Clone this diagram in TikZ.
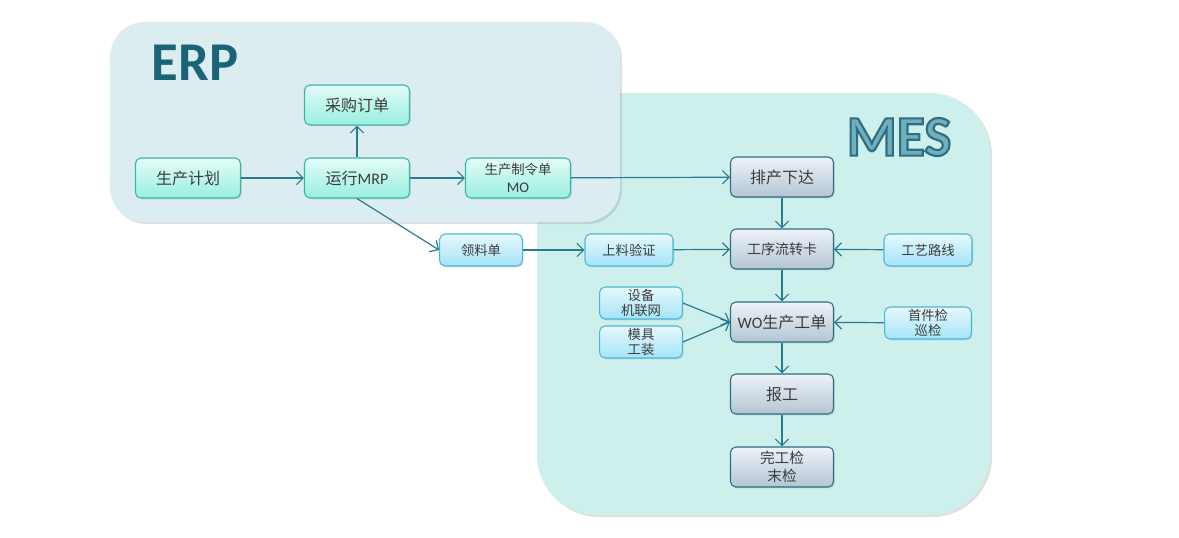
\documentclass[tikz,border=0pt]{standalone}
\usepackage{fontspec}
\setmainfont{Carlito}
\newfontfamily\cjk{Noto Sans CJK SC}
\usetikzlibrary{arrows.meta,shadows}
\definecolor{erpbg}{HTML}{DCEDF2}
\definecolor{mesbg}{HTML}{CEF0EC}
\definecolor{erptxt}{HTML}{1B6478}
\definecolor{mesfill}{HTML}{6FAFBE}
\definecolor{arrcol}{HTML}{2A7A90}
\definecolor{txtgray}{HTML}{3C3C3C}
\definecolor{erpA}{HTML}{E4FCF7}
\definecolor{erpB}{HTML}{98EFDF}
\definecolor{erpD}{HTML}{3AB5A8}
\definecolor{mainA}{HTML}{EDF2F7}
\definecolor{mainB}{HTML}{B3C6D5}
\definecolor{mainD}{HTML}{2D6D83}
\definecolor{subA}{HTML}{E8F8FD}
\definecolor{subB}{HTML}{A3E4F8}
\definecolor{subD}{HTML}{4DB6D8}
\newcommand{\outlinetext}[1]{{\color{mesfill}\special{pdf:literal direct 1.6 w 0.184 0.431 0.502 RG 2 Tr}#1\special{pdf:literal direct 0 Tr}}}
\tikzset{
  panel/.style={drop shadow={opacity=0.25,shadow xshift=1.5pt,shadow yshift=-1.5pt}},
  basebox/.style={rounded corners=4pt, line width=0.8pt, text=txtgray,
    drop shadow={opacity=0.22,shadow xshift=1pt,shadow yshift=-1pt}, align=center, inner sep=1pt},
  erpbox/.style={basebox, top color=erpA, bottom color=erpB, draw=erpD,
    minimum width=78.75pt, minimum height=30pt, font=\cjk\fontsize{12}{14}\selectfont},
  mainbox/.style={basebox, top color=mainA, bottom color=mainB, draw=mainD,
    minimum width=77.25pt, minimum height=30pt, font=\cjk\fontsize{12}{14}\selectfont},
  subbox/.style={basebox, top color=subA, bottom color=subB, draw=subD,
    minimum width=62pt, minimum height=24pt, font=\cjk\fontsize{10}{11.5}\selectfont},
  arr/.style={draw=arrcol, line width=0.9pt, -{Straight Barb[length=5pt,width=10pt]}}
}
\begin{document}
\begin{tikzpicture}[x=0.75pt,y=-0.75pt]
\useasboundingbox (0,0) rectangle (1179,537);
% panels
\fill[mesbg, rounded corners=45pt, panel] (537,93) rectangle (990,515);
\fill[erpbg, rounded corners=26pt, panel] (110,22) rectangle (620,222);
\node[font=\bfseries\fontsize{41}{41}\selectfont, text=erptxt] (erp) at (195,63) {ERP};
\node[font=\bfseries\fontsize{43}{43}\selectfont] (mes) at (899,137) {\outlinetext{MES}};
% ERP nodes
\node[erpbox] (plan) at (188,178) {生产计划};
\node[erpbox] (mrp) at (357,178) {运行{\rmfamily MRP}};
\node[erpbox] (po) at (357,105) {采购订单};
\node[erpbox, font=\cjk\fontsize{10}{13}\selectfont] (mo) at (518,178) {生产制令单\\{\rmfamily\fontsize{11}{13}\selectfont MO}};
% MES main nodes
\node[mainbox] (pc) at (782,177) {排产下达};
\node[mainbox, font=\cjk\fontsize{10.5}{13}\selectfont] (card) at (782,249) {工序流转卡};
\node[mainbox] (wo) at (782,322) {{\rmfamily WO}生产工单};
\node[mainbox] (bg) at (782,394) {报工};
\node[mainbox, font=\cjk\fontsize{11}{14}\selectfont] (wg) at (782,467) {完工检\\末检};
% sub nodes
\node[subbox] (ll) at (481,250) {领料单};
\node[subbox, minimum width=66pt] (sl) at (629,250) {上料验证};
\node[subbox, minimum width=66pt] (gy) at (928,250) {工艺路线};
\node[subbox] (sb) at (641,303) {设备\\机联网};
\node[subbox] (mj) at (641,342) {模具\\工装};
\node[subbox, minimum width=65pt] (sj) at (928,323) {首件检\\巡检};
% connectors
\draw[arr] (plan) -- (mrp);
\draw[arr] (mrp) -- (po);
\draw[arr] (mrp) -- (mo);
\draw[arr] (mo) -- (pc);
\draw[arr] (mrp.south) -- (ll.west);
\draw[arr] (ll) -- (sl);
\draw[arr] (sl) -- (card);
\draw[arr] (gy) -- (card);
\draw[arr] (pc) -- (card);
\draw[arr] (card) -- (wo);
\draw[arr] (sb.east) -- (wo.west);
\draw[arr] (mj.east) -- (wo.west);
\draw[arr] (sj) -- (wo);
\draw[arr] (wo) -- (bg);
\draw[arr] (bg) -- (wg);
\end{tikzpicture}
\end{document}
